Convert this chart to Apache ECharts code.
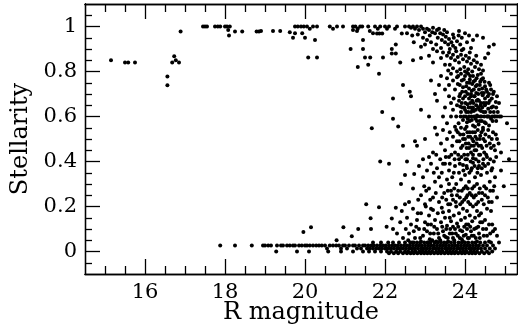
<!DOCTYPE html>
<html>
<head>
<meta charset="utf-8">
<script src="https://cdn.jsdelivr.net/npm/echarts@6/dist/echarts.min.js"></script>
<style>html,body{margin:0;padding:0;background:#fff}#c{width:518px;height:326px}</style>
</head>
<body>
<div id="c"></div>
<script>
// ---- tick values ----
const xMajorTicks = [16, 18, 20, 22, 24];
const xMinorTicks = [15, 15.5, 16.5, 17, 17.5, 18.5, 19, 19.5, 20.5, 21, 21.5, 22.5, 23, 23.5, 24.5, 25];
const yMajorTicks = [0, 0.2, 0.4, 0.6, 0.8, 1];
const yMinorTicks = [-0.05, 0.05, 0.1, 0.15, 0.25, 0.3, 0.35, 0.45, 0.5, 0.55, 0.65, 0.7, 0.75, 0.85, 0.9, 0.95, 1.05];

// ---- data: [R magnitude, stellarity] ----
const brightObjects = [
  [15.15,0.85],[15.5,0.84],[15.58,0.84],[15.75,0.84],[16.56,0.778],[16.56,0.739],
  [16.68,0.84],[16.73,0.868],[16.77,0.85],[16.85,0.84],[16.89,0.978],
  [17.45,1],[17.5,1],[17.55,1],[17.75,1],[17.82,1],[17.88,1],[18.0,1],[18.05,1],[18.12,1],
  [18.08,0.985],[18.1,0.96],[18.25,0.978],[18.43,0.978],[18.79,0.978],[18.85,0.978],[18.9,0.98],
  [19.2,0.98],[19.38,0.98],[19.62,0.975],[19.75,0.97],[19.93,0.97],[19.75,1],[19.82,1],[19.9,1],
  [19.97,1],[20.05,1],[20.12,0.99],[20.2,1],[20.3,1],[20.25,0.94],[19.7,0.95],[20.0,0.95],
  [20.08,0.862],[20.3,0.862],[20.62,1],[20.7,0.99],[20.8,1],[20.95,1],[21.2,1],[21.26,1],
  [21.32,0.99],[21.38,1],[21.43,1],[21.3,0.98],[21.2,0.985],[21.58,1],[21.75,1],[21.82,0.99],
  [21.88,1],[21.8,0.969],[21.86,0.969],[21.93,0.969],[22.0,1],[22.05,0.99],[22.1,1],[22.25,0.99],
  [22.3,1],[22.42,0.969],[21.45,0.94],[21.14,0.9],[21.45,0.9],[22.27,0.92],[22.17,0.9],
  [22.17,0.88],[22.27,0.88],[21.5,0.862],[21.63,0.862],[21.95,0.862],[21.32,0.82],[21.58,0.83],
  [22.38,0.84],[21.85,0.79],[21.62,0.98],[21.7,0.97]
];
const topRidge = [
  [22.6,1.0],[22.65,0.995],[22.7,1.0],[22.75,0.99],[22.8,1.0],[22.85,0.985],[22.9,1.0],[22.95,0.99],
  [23.0,0.975],[23.05,0.99],[23.1,0.985],[23.12,0.96],[23.18,0.975],[23.2,0.995],[23.25,0.97],
  [23.3,0.985],[23.32,0.95],[23.38,0.97],[23.42,0.94],[23.45,0.965],[23.5,0.93],[23.52,0.955],
  [23.58,0.92],[23.6,0.945],[23.62,0.9],[23.66,0.93],[23.7,0.915],[23.72,0.95],[23.76,0.905],
  [23.8,0.935],[23.84,0.96],[23.88,0.92],[23.92,0.95],[23.96,0.9],[24.0,0.97],[24.05,0.93],
  [24.1,0.96],[24.15,0.905],[24.2,0.94],[24.3,0.96],[24.45,0.95],[24.6,0.91],[24.72,0.92],
  [22.55,0.97],[22.68,0.96],[22.82,0.965],[22.95,0.95],[23.05,0.94],[23.15,0.93],[23.28,0.92],
  [23.4,0.905],[22.72,0.93],[22.9,0.91],[23.0,0.92],[23.2,0.9],[22.5,1.0],[23.35,0.99],
  [23.55,0.975],[23.48,0.985],[23.7,0.965],[23.85,0.98]
];
const upperCloud = [
  [23.3,0.89],[23.45,0.885],[23.55,0.87],[23.6,0.885],[23.65,0.86],[23.7,0.875],[23.75,0.85],
  [23.78,0.89],[23.82,0.865],[23.85,0.84],[23.9,0.875],[23.95,0.855],[23.98,0.82],[24.02,0.87],
  [24.05,0.845],[24.08,0.81],[24.1,0.86],[24.15,0.835],[24.18,0.8],[24.22,0.85],[24.25,0.82],
  [24.3,0.84],[24.35,0.81],[24.4,0.83],[23.62,0.83],[23.7,0.815],[23.88,0.81],[24.0,0.8],
  [23.5,0.83],[23.4,0.86],[23.1,0.87],[22.9,0.86],[22.7,0.85],[23.2,0.84],[24.5,0.86],[24.58,0.88],
  [23.92,0.895],[24.12,0.885],[24.28,0.87],[23.8,0.8],[23.58,0.805],[24.45,0.805],
  [23.4,0.78],[23.55,0.77],[23.6,0.74],[23.65,0.79],[23.7,0.76],[23.75,0.72],[23.8,0.775],
  [23.82,0.745],[23.88,0.7],[23.9,0.79],[23.92,0.76],[23.95,0.73],[24.0,0.78],[24.02,0.71],
  [24.05,0.75],[24.08,0.79],[24.1,0.725],[24.12,0.765],[24.15,0.7],[24.18,0.745],[24.2,0.78],
  [24.22,0.72],[24.25,0.76],[24.28,0.705],[24.3,0.74],[24.32,0.785],[24.35,0.72],[24.38,0.755],
  [24.42,0.705],[24.45,0.77],[24.5,0.735],[24.55,0.71],[24.6,0.75],[24.65,0.72],[24.7,0.7],
  [23.5,0.72],[23.35,0.74],[23.15,0.76],[22.62,0.71],[22.45,0.74],[22.65,0.69],[23.25,0.7],
  [24.05,0.795],[24.4,0.79],[22.2,0.68],[21.93,0.62],[22.2,0.59],[21.67,0.548],[22.33,0.556]
];
const middleCloud = [
  [23.6,0.69],[23.65,0.66],[23.7,0.63],[23.72,0.68],[23.78,0.6],[23.8,0.65],[23.84,0.57],
  [23.86,0.69],[23.9,0.62],[23.92,0.66],[23.95,0.585],[23.98,0.64],[24.0,0.69],[24.02,0.6],
  [24.04,0.555],[24.06,0.655],[24.08,0.62],[24.1,0.68],[24.12,0.58],[24.14,0.64],[24.16,0.6],
  [24.18,0.67],[24.2,0.56],[24.22,0.625],[24.24,0.69],[24.26,0.59],[24.28,0.65],[24.3,0.605],
  [24.32,0.675],[24.34,0.565],[24.36,0.63],[24.38,0.6],[24.4,0.66],[24.42,0.58],[24.44,0.695],
  [24.46,0.62],[24.48,0.6],[24.5,0.65],[24.52,0.57],[24.55,0.6],[24.58,0.635],[24.6,0.6],
  [24.62,0.67],[24.65,0.59],[24.68,0.6],[24.7,0.645],[24.75,0.6],[24.78,0.58],[24.82,0.62],
  [24.9,0.6],[23.5,0.64],[23.45,0.6],[23.55,0.57],[23.3,0.67],[23.1,0.6],[22.9,0.63],[23.65,0.6],
  [23.75,0.555],[23.88,0.645],[24.0,0.63],[24.1,0.6],[24.2,0.64],[24.3,0.58],[24.4,0.625],
  [24.5,0.68],[24.6,0.56],[24.15,0.69],[24.35,0.67],[24.25,0.555],[24.45,0.55],[23.95,0.68],
  [24.05,0.575],[24.6,0.7],[24.85,0.66],[25.05,0.57],
  [23.3,0.52],[23.4,0.48],[23.45,0.54],[23.5,0.45],[23.55,0.5],[23.6,0.42],[23.62,0.53],
  [23.68,0.47],[23.7,0.51],[23.75,0.44],[23.78,0.54],[23.8,0.49],[23.85,0.41],[23.88,0.52],
  [23.9,0.46],[23.95,0.5],[23.98,0.43],[24.0,0.545],[24.02,0.48],[24.05,0.41],[24.08,0.51],
  [24.1,0.46],[24.12,0.53],[24.15,0.44],[24.18,0.5],[24.2,0.415],[24.22,0.47],[24.25,0.53],
  [24.28,0.45],[24.3,0.5],[24.35,0.43],[24.38,0.515],[24.4,0.47],[24.45,0.54],[24.48,0.44],
  [24.5,0.49],[24.55,0.42],[24.6,0.51],[24.65,0.46],[24.7,0.53],[24.75,0.45],[24.8,0.5],
  [24.9,0.44],[23.2,0.44],[23.0,0.5],[22.8,0.47],[22.75,0.49],[22.45,0.47],[23.1,0.42],
  [23.25,0.55],[22.95,0.41],[25.1,0.41],[21.88,0.4],[22.1,0.39],[22.55,0.4]
];
const denseCore = [
  [23.83,0.78],[23.87,0.74],[23.93,0.71],[23.97,0.765],[24.03,0.735],[24.07,0.7],[24.11,0.75],
  [24.13,0.78],[24.17,0.715],[24.21,0.755],[24.23,0.69],[24.27,0.735],[24.29,0.77],[24.33,0.7],
  [24.37,0.74],[24.41,0.765],[24.43,0.725],[24.47,0.705],[24.49,0.755],[24.53,0.72],[24.57,0.69],
  [24.63,0.74],[24.67,0.68],[24.72,0.71],[24.77,0.665],[24.8,0.69],
  [23.85,0.67],[23.89,0.6],[23.93,0.64],[23.97,0.6],[24.01,0.66],[24.03,0.62],[24.07,0.59],
  [24.09,0.64],[24.13,0.66],[24.15,0.62],[24.17,0.585],[24.19,0.63],[24.21,0.66],[24.23,0.6],
  [24.27,0.63],[24.29,0.67],[24.31,0.6],[24.33,0.64],[24.37,0.58],[24.39,0.65],[24.41,0.6],
  [24.43,0.64],[24.47,0.66],[24.49,0.575],[24.51,0.62],[24.53,0.66],[24.57,0.6],[24.59,0.66],
  [24.63,0.62],[24.66,0.64],[24.69,0.58],[24.72,0.62],[24.73,0.6],[24.8,0.6],[24.86,0.6],[24.78,0.64],
  [23.82,0.53],[23.86,0.49],[23.9,0.55],[23.94,0.47],[23.96,0.52],[24.0,0.5],[24.04,0.46],
  [24.06,0.53],[24.09,0.48],[24.13,0.51],[24.16,0.47],[24.19,0.53],[24.21,0.49],[24.24,0.45],
  [24.26,0.51],[24.29,0.48],[24.32,0.54],[24.34,0.47],[24.37,0.5],[24.41,0.53],[24.43,0.46],
  [24.46,0.5],[24.51,0.52],[24.54,0.47],[24.58,0.54],[24.62,0.48],[24.67,0.5],[24.72,0.47],
  [24.77,0.52],[24.84,0.48],
  [23.83,0.43],[23.87,0.39],[23.91,0.42],[23.96,0.36],[24.01,0.41],[24.04,0.38],[24.07,0.43],
  [24.11,0.35],[24.14,0.4],[24.17,0.37],[24.2,0.43],[24.24,0.38],[24.27,0.41],[24.31,0.35],
  [24.34,0.4],[24.38,0.43],[24.42,0.37],[24.46,0.41],[24.5,0.38],[24.53,0.43],[24.58,0.39],
  [24.63,0.41],[24.66,0.36],[24.72,0.4],[24.78,0.42],[23.62,0.39],[23.66,0.43],[23.74,0.41],
  [23.52,0.42],[23.38,0.41],[23.28,0.43]
];
const lowerCloud = [
  [22.4,0.3],[22.5,0.34],[22.73,0.345],[22.7,0.28],[22.6,0.22],[22.85,0.38],[22.9,0.25],
  [22.95,0.33],[23.0,0.21],[23.05,0.36],[23.1,0.28],[23.15,0.39],[23.2,0.24],[23.25,0.31],
  [23.3,0.37],[23.35,0.22],[23.4,0.29],[23.42,0.35],[23.48,0.26],[23.5,0.39],[23.55,0.32],
  [23.58,0.21],[23.6,0.36],[23.65,0.27],[23.68,0.33],[23.7,0.23],[23.75,0.38],[23.78,0.3],
  [23.8,0.25],[23.85,0.35],[23.88,0.21],[23.9,0.32],[23.92,0.27],[23.95,0.385],[23.98,0.23],
  [24.0,0.34],[24.02,0.29],[24.05,0.37],[24.08,0.22],[24.1,0.31],[24.12,0.26],[24.15,0.36],
  [24.18,0.28],[24.2,0.395],[24.22,0.24],[24.25,0.33],[24.28,0.21],[24.3,0.3],[24.32,0.37],
  [24.35,0.26],[24.4,0.34],[24.42,0.23],[24.45,0.39],[24.48,0.29],[24.5,0.25],[24.55,0.35],
  [24.6,0.22],[24.62,0.31],[24.68,0.37],[24.7,0.27],[24.75,0.33],[24.8,0.24],[24.97,0.29],
  [24.9,0.36],[23.45,0.39],[23.6,0.3],[23.72,0.35],[24.06,0.25],[24.35,0.38],[23.35,0.33],
  [22.98,0.29],[23.22,0.35],
  [23.53,0.23],[23.57,0.27],[23.63,0.21],[23.67,0.25],[23.73,0.28],[23.77,0.22],[23.83,0.27],
  [23.87,0.24],[23.93,0.22],[23.97,0.28],[24.03,0.24],[24.07,0.28],[24.13,0.21],[24.17,0.25],
  [24.23,0.29],[24.27,0.25],[24.33,0.22],[24.37,0.28],[24.43,0.26],[24.47,0.21],[24.53,0.28],
  [24.57,0.24],[24.63,0.27],[24.67,0.22],[24.73,0.29],[23.13,0.23],[23.27,0.26],[23.03,0.27],
  [22.83,0.23],[23.43,0.24],
  [21.53,0.21],[21.85,0.197],[21.64,0.148],[22.27,0.194],[22.42,0.18],[22.5,0.21],[22.17,0.147],
  [22.38,0.13],[21.65,0.1],[22.04,0.11],[19.96,0.087],[20.15,0.108],[20.96,0.108],[20.79,0.05],
  [21.17,0.068],[21.33,0.1]
];
const faintGalaxies = [
  [22.55,0.15],[22.6,0.08],[22.65,0.12],[22.7,0.19],[22.75,0.06],[22.8,0.14],[22.85,0.1],
  [22.9,0.17],[22.95,0.07],[23.0,0.13],[23.02,0.2],[23.05,0.09],[23.1,0.16],[23.12,0.055],
  [23.15,0.12],[23.2,0.185],[23.22,0.08],[23.25,0.14],[23.3,0.1],[23.32,0.17],[23.35,0.06],
  [23.4,0.13],[23.42,0.195],[23.45,0.09],[23.5,0.15],[23.52,0.065],[23.55,0.115],[23.6,0.18],
  [23.62,0.08],[23.65,0.135],[23.7,0.06],[23.72,0.16],[23.75,0.1],[23.78,0.2],[23.8,0.125],
  [23.82,0.07],[23.85,0.17],[23.88,0.095],[23.9,0.14],[23.92,0.055],[23.95,0.19],[23.98,0.11],
  [24.0,0.15],[24.02,0.075],[24.05,0.18],[24.08,0.12],[24.1,0.06],[24.12,0.16],[24.15,0.09],
  [24.18,0.135],[24.2,0.2],[24.22,0.07],[24.25,0.15],[24.28,0.105],[24.3,0.18],[24.35,0.08],
  [24.38,0.13],[24.4,0.17],[24.45,0.1],[24.5,0.14],[24.55,0.07],[24.6,0.12],[24.65,0.18],
  [24.7,0.09],[24.8,0.07],[24.85,0.04],[22.3,0.08],[22.45,0.06],[22.2,0.1],[22.68,0.04],
  [22.9,0.045],[23.08,0.04],[23.58,0.045],[23.28,0.045],[23.95,0.045],[24.3,0.045],[24.6,0.045],
  [23.45,0.175],[23.7,0.11],[23.15,0.19],[22.82,0.17],[23.62,0.15],[24.05,0.1],[24.35,0.16],
  [24.55,0.19],
  [22.52,0.1],[22.58,0.05],[22.72,0.09],[22.78,0.11],[22.88,0.06],[22.98,0.1],[23.07,0.12],
  [23.13,0.08],[23.18,0.05],[23.23,0.11],[23.33,0.08],[23.38,0.05],[23.43,0.11],[23.48,0.07],
  [23.53,0.1],[23.57,0.06],[23.63,0.1],[23.68,0.08],[23.73,0.05],[23.77,0.08],[23.83,0.11],
  [23.87,0.06],[23.93,0.09],[23.97,0.07],[24.03,0.12],[24.07,0.06],[24.13,0.11],[24.17,0.07],
  [24.23,0.1],[24.27,0.06],[24.33,0.11],[24.37,0.06],[24.43,0.13],[24.47,0.07],[24.53,0.1],
  [24.63,0.08],[24.68,0.12],[24.75,0.1]
];
// galaxy sequence near stellarity 0: magnitudes listed per stellarity level
const bandTopX = [21.7,21.9,22.08,22.2,22.35,22.5,22.63,22.72,22.8,22.88,22.98,23.06,23.14,23.24,
  23.32,23.4,23.48,23.55,23.65,23.74,23.84,23.92,24.0,24.08,24.18,24.26,24.38,24.5,24.65];
const bandHighX = [17.88,18.25,18.67,18.95,19.0,19.08,19.15,19.3,19.4,19.45,19.55,19.62,19.7,19.75,
  19.85,19.92,20.0,20.05,20.12,20.2,20.28,20.35,20.42,20.5,20.62,20.7,20.78,20.85,20.95,21.0,
  21.1,21.2,21.25,21.35,21.45,21.5,21.58,21.66,21.72,21.8,21.88,21.95,22.02,22.1,22.18,22.25,
  22.32,22.4,22.48,22.55,22.62,22.7,22.78,22.85,22.92,23.0,23.08,23.15,23.22,23.3,23.38,23.45,
  23.52,23.6,23.68,23.75,23.82,23.9,23.98,24.05,24.12,24.2,24.28,24.35,24.45,24.55,24.7];
const bandMidX = [20.55,20.9,21.05,21.3,21.4,21.55,21.62,21.7,21.78,21.85,21.92,22.0,22.06,22.14,
  22.22,22.3,22.36,22.44,22.52,22.6,22.66,22.74,22.82,22.9,22.96,23.04,23.12,23.2,23.26,23.34,
  23.42,23.5,23.56,23.64,23.72,23.8,23.86,23.94,24.02,24.1,24.16,24.24,24.32,24.4,24.5,24.62,24.75];
const bandLowX = [19.28,19.8,20.1,20.58,20.9,21.2,21.45,21.6,21.75,21.9,22.05,22.15,22.28,22.38,
  22.5,22.58,22.68,22.76,22.86,22.94,23.02,23.1,23.18,23.28,23.36,23.44,23.54,23.62,23.7,23.78,
  23.88,23.96,24.04,24.14,24.22,24.3,24.42,24.55,24.68];
const bandFloorX = [22.1,22.22,22.33,22.45,22.55,22.64,22.72,22.81,22.9,22.98,23.06,23.14,23.23,
  23.32,23.4,23.49,23.58,23.66,23.74,23.83,23.92,24.0,24.1,24.18,24.26,24.36,24.48,24.6];
const bandLevels = [0.04, 0.027, 0.013, 0.0, -0.008];

const points = [].concat(
  brightObjects, topRidge, upperCloud, middleCloud, denseCore, lowerCloud, faintGalaxies,
  bandTopX.map(x => [x, bandLevels[0]]),
  bandHighX.map(x => [x, bandLevels[1]]),
  bandMidX.map(x => [x, bandLevels[2]]),
  bandLowX.map(x => [x, bandLevels[3]]),
  bandFloorX.map(x => [x, bandLevels[4]])
);

const FONT = 'DejaVu Serif';
const X_MIN = 14.5, X_MAX = 25.3, Y_MIN = -0.1, Y_MAX = 1.1;
function xAx(pos, ticks, len, labels) {
  return {
    type: 'value', position: pos, min: X_MIN, max: X_MAX,
    splitLine: {show: false},
    axisLine: {show: true, onZero: false, lineStyle: {color: '#000', width: 1.3}},
    axisTick: {show: true, inside: true, length: len, customValues: ticks, lineStyle: {color: '#000', width: 1.3}},
    axisLabel: labels ? {show: true, customValues: ticks, margin: 8, color: '#000', fontFamily: FONT, fontSize: 21} : {show: false},
    name: labels ? 'R magnitude' : '', nameLocation: 'middle', nameGap: 27, nameMoveOverlap: false,
    nameTextStyle: {color: '#000', fontFamily: FONT, fontSize: 24}
  };
}
function yAx(pos, ticks, len, labels) {
  return {
    type: 'value', position: pos, min: Y_MIN, max: Y_MAX,
    splitLine: {show: false},
    axisLine: {show: true, onZero: false, lineStyle: {color: '#000', width: 1.3}},
    axisTick: {show: true, inside: true, length: len, customValues: ticks, lineStyle: {color: '#000', width: 1.3}},
    axisLabel: labels ? {show: true, customValues: ticks, margin: 8, color: '#000', fontFamily: FONT, fontSize: 21} : {show: false},
    name: labels ? 'Stellarity' : '', nameLocation: 'middle', nameGap: 52, nameMoveOverlap: false,
    nameTextStyle: {color: '#000', fontFamily: FONT, fontSize: 24}
  };
}

const chart = echarts.init(document.getElementById('c'), null, {renderer: 'canvas'});
chart.setOption({
  animation: false,
  backgroundColor: '#fff',
  grid: {left: 85, right: 1, top: 4, bottom: 52, containLabel: false, outerBoundsMode: 'none'},
  xAxis: [
    xAx('bottom', xMajorTicks, 15, true),
    xAx('bottom', xMinorTicks, 8, false),
    xAx('top', xMajorTicks, 15, false),
    xAx('top', xMinorTicks, 8, false)
  ],
  yAxis: [
    yAx('left', yMajorTicks, 15, true),
    yAx('left', yMinorTicks, 7, false),
    yAx('right', yMajorTicks, 15, false),
    yAx('right', yMinorTicks, 7, false)
  ],
  series: [{
    type: 'scatter', xAxisIndex: 0, yAxisIndex: 0,
    symbol: 'circle', symbolSize: 4,
    itemStyle: {color: '#000', opacity: 1},
    data: points
  }]
});
</script>
</body>
</html>
